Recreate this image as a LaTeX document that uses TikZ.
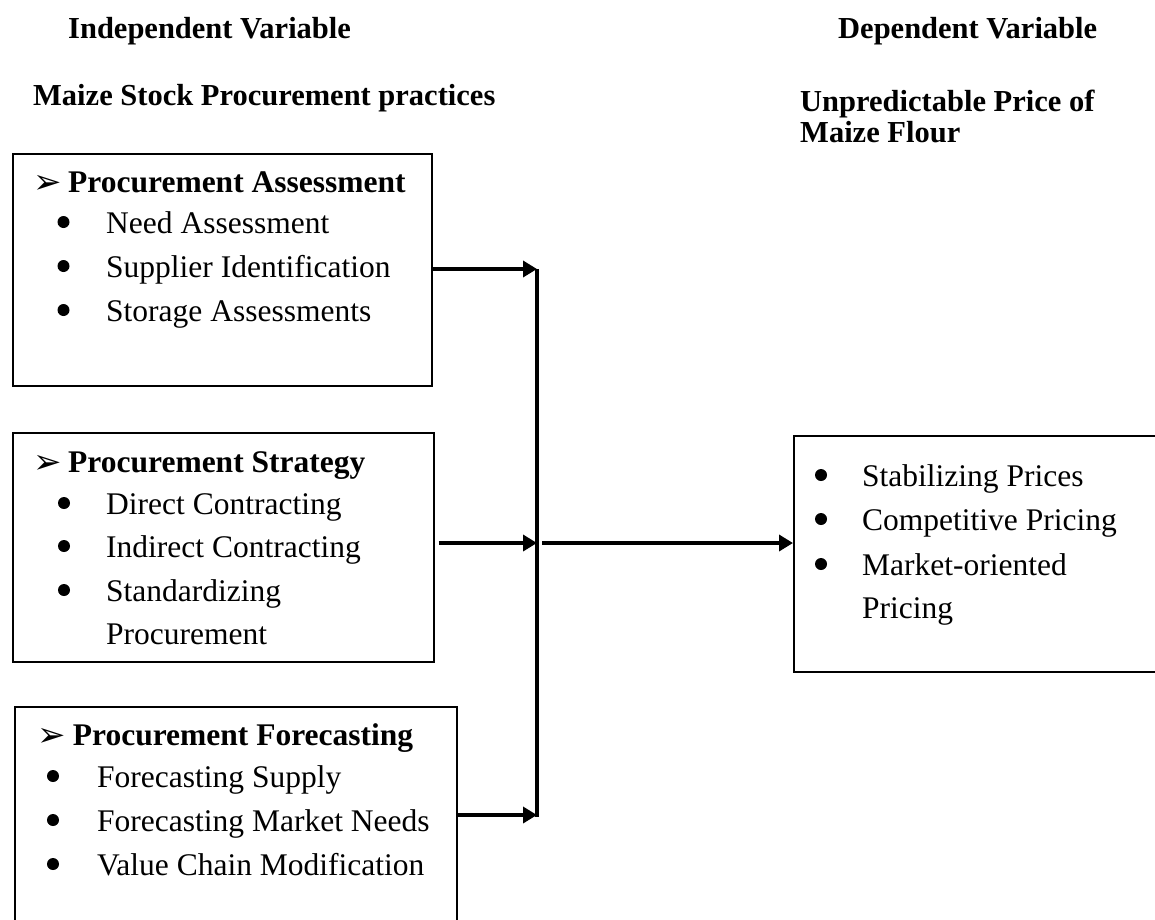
\documentclass[tikz,border=0pt]{standalone}
\usepackage{fontspec}
\setmainfont{Liberation Serif}
\newfontfamily\symfont{DejaVu Sans}
\usetikzlibrary{arrows.meta}
\begin{document}
\begin{tikzpicture}[x=1pt,y=-1pt,
  frame/.style={draw, line width=1.5pt, inner sep=0, anchor=north west},
  txt/.style={anchor=base west, inner sep=0, font=\fontsize{31.5}{38}\selectfont},
  head/.style={anchor=base west, inner sep=0, font=\fontsize{31.5}{38}\selectfont\bfseries},
  title/.style={anchor=base west, inner sep=0, font=\fontsize{30.5}{36}\selectfont\bfseries},
  dot/.style={circle, fill, inner sep=0, minimum size=12pt},
  pointer/.style={anchor=base west, inner sep=0, font=\fontsize{34}{34}\symfont},
  link/.style={line width=4.5pt, -{Triangle[length=14pt,width=16pt]}},
  spine/.style={line width=3.8pt}]
\useasboundingbox (0,0) rectangle (1155,919);
\clip (0,0) rectangle (1155,919);

% titles
\node[title] (tind) at (68,38) {Independent Variable};
\node[title] (tdep) at (838,38) {Dependent Variable};
\node[title] (tmsp) at (33,105) {Maize Stock Procurement practices};
\node[title] (tup1) at (800,111) {Unpredictable Price of};
\node[title] (tup2) at (800,142) {Maize Flour};

% frames
\node[frame, minimum width=419pt, minimum height=232pt] (b1) at (12,153) {};
\node[frame, minimum width=421pt, minimum height=229pt] (b2) at (12,432) {};
\node[frame, minimum width=442pt, minimum height=260pt] (b3) at (14,706) {};
\node[frame, minimum width=400pt, minimum height=236pt] (b4) at (793,435) {};

% box 1
\node[pointer] (p1) at (33,193) {➢};
\node[head] (h1) at (68,192) {Procurement Assessment};
\node[dot] (d11) at (63.5,222) {};
\node[txt] (l11) at (106,233) {Need Assessment};
\node[dot] (d12) at (63.5,266) {};
\node[txt] (l12) at (106,277) {Supplier Identification};
\node[dot] (d13) at (63.5,310) {};
\node[txt] (l13) at (106,321) {Storage Assessments};

% box 2
\node[pointer] (p2) at (33,473) {➢};
\node[head] (h2) at (68,472) {Procurement Strategy};
\node[dot] (d21) at (64,503) {};
\node[txt] (l21) at (106,514) {Direct Contracting};
\node[dot] (d22) at (64,546) {};
\node[txt] (l22) at (106,557) {Indirect Contracting};
\node[dot] (d23) at (64,590) {};
\node[txt] (l23) at (106,601) {Standardizing};
\node[txt] (l24) at (106,644) {Procurement};

% box 3
\node[pointer] (p3) at (37,746) {➢};
\node[head] (h3) at (72.7,745) {Procurement Forecasting};
\node[dot] (d31) at (53,776) {};
\node[txt] (l31) at (97,787) {Forecasting Supply};
\node[dot] (d32) at (53,820) {};
\node[txt] (l32) at (97,831) {Forecasting Market Needs};
\node[dot] (d33) at (53,864) {};
\node[txt] (l33) at (97,875) {Value Chain Modification};

% box 4
\node[dot] (d41) at (821,475) {};
\node[txt] (l41) at (862,486) {Stabilizing Prices};
\node[dot] (d42) at (821,519) {};
\node[txt] (l42) at (862,530) {Competitive Pricing};
\node[dot] (d43) at (821,564) {};
\node[txt] (l43) at (862,575) {Market-oriented};
\node[txt] (l44) at (862,618) {Pricing};

% connectors
\coordinate (j1) at (537,269);
\coordinate (j2) at (537,543);
\coordinate (j3) at (537,815);
\draw[spine] (j1) -- ([yshift=-2pt]j3);
\draw[link] (b1.east |- j1) -- (j1);
\draw[link] ([xshift=4pt]b2.east |- j2) -- (j2);
\draw[link] (b3.east |- j3) -- (j3);
\draw[link] ([xshift=5pt]j2) -- (b4.west |- j2);
\end{tikzpicture}
\end{document}
